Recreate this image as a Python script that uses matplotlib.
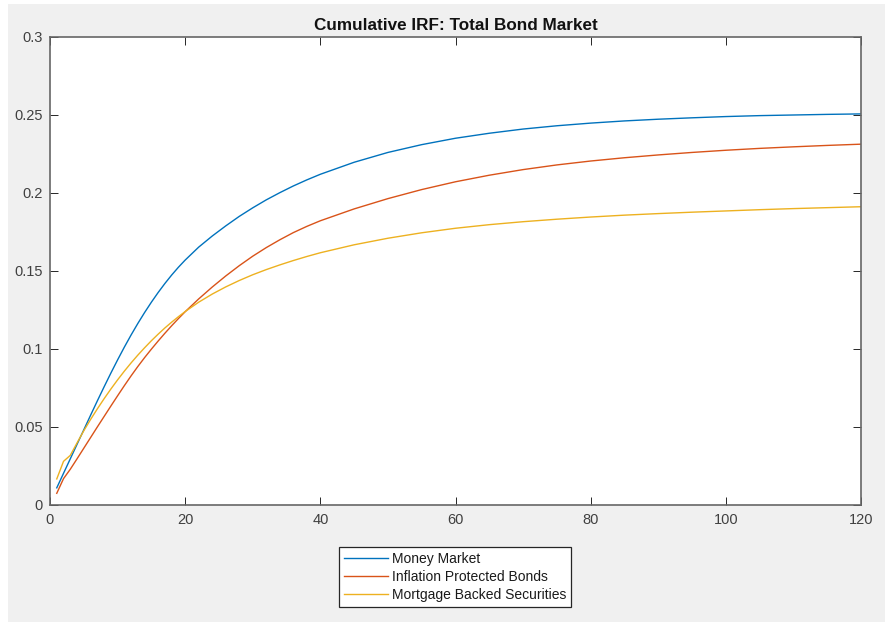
import matplotlib
matplotlib.use("Agg")
import matplotlib.pyplot as plt
from matplotlib.patches import Rectangle

plt.rcParams['font.family'] = ['Liberation Sans', 'DejaVu Sans']

# Horizon (periods) shared by all three responses
horizon = [1, 2, 3, 4, 5, 6, 7, 8, 9, 10, 11, 12, 13, 14, 15, 16, 17, 18, 19, 20,
           22, 24, 26, 28, 30, 32, 34, 36, 38, 40,
           45, 50, 55, 60, 65, 70, 75, 80, 85, 90, 95, 100, 105, 110, 115, 120]

money_market = [0.0110, 0.0203, 0.0296, 0.0389, 0.0482, 0.0575, 0.0667, 0.0757, 0.0845, 0.0930,
                0.1012, 0.1090, 0.1164, 0.1234, 0.1300, 0.1362, 0.1420, 0.1474, 0.1524, 0.1570,
                0.1653, 0.1724, 0.1789, 0.1850, 0.1905, 0.1956, 0.2002, 0.2045, 0.2084, 0.2120,
                0.2197, 0.2260, 0.2310, 0.2351, 0.2383, 0.2410, 0.2431, 0.2448, 0.2462, 0.2473,
                0.2482, 0.2490, 0.2496, 0.2500, 0.2504, 0.2507]

inflation_protected = [0.0075, 0.0169, 0.0229, 0.0296, 0.0364, 0.0432, 0.0500, 0.0567, 0.0634, 0.0700,
                       0.0765, 0.0828, 0.0888, 0.0945, 0.0999, 0.1051, 0.1101, 0.1149, 0.1195, 0.1239,
                       0.1321, 0.1397, 0.1468, 0.1534, 0.1595, 0.1650, 0.1700, 0.1746, 0.1786, 0.1822,
                       0.1898, 0.1964, 0.2022, 0.2072, 0.2114, 0.2150, 0.2180, 0.2205, 0.2226, 0.2244,
                       0.2260, 0.2274, 0.2286, 0.2296, 0.2305, 0.2313]

mortgage_backed = [0.0167, 0.0280, 0.0318, 0.0398, 0.0476, 0.0548, 0.0616, 0.0681, 0.0743, 0.0802,
                   0.0858, 0.0911, 0.0961, 0.1008, 0.1053, 0.1095, 0.1135, 0.1172, 0.1207, 0.1240,
                   0.1300, 0.1352, 0.1398, 0.1439, 0.1476, 0.1509, 0.1539, 0.1567, 0.1593, 0.1617,
                   0.1668, 0.1710, 0.1745, 0.1774, 0.1797, 0.1816, 0.1832, 0.1846, 0.1858, 0.1868,
                   0.1877, 0.1885, 0.1893, 0.1900, 0.1906, 0.1912]

series_labels = ['Money Market', 'Inflation Protected Bonds', 'Mortgage Backed Securities']
series_colors = ['#0072BD', '#D95319', '#EDB120']

x_ticks = [0, 20, 40, 60, 80, 100, 120]
y_ticks = [0, 0.05, 0.1, 0.15, 0.2, 0.25, 0.3]
y_tick_labels = ['0', '0.05', '0.1', '0.15', '0.2', '0.25', '0.3']

W, H = 885, 622
fig = plt.figure(figsize=(W / 100, H / 100), dpi=100)
fig.patch.set_facecolor('white')
fig.patches.append(Rectangle((8 / W, 0), (W - 8) / W, (H - 4) / H,
                             transform=fig.transFigure, facecolor='#f0f0f0',
                             edgecolor='none', zorder=-10))

ax = fig.add_axes([50 / W, 1 - 505 / H, 811 / W, 468 / H])
ax.set_zorder(1)
ax.set_facecolor('white')

for values, label, color in zip([money_market, inflation_protected, mortgage_backed],
                                series_labels, series_colors):
    ax.plot(horizon, values, color=color, linewidth=1.0, label=label)

ax.set_xlim(0, 120)
ax.set_ylim(0, 0.3)
ax.set_xticks(x_ticks)
ax.set_yticks(y_ticks)
ax.set_yticklabels(y_tick_labels)

tick_color = '#262626'
label_color = '#404040'
for side in ['left', 'right', 'top', 'bottom']:
    ax.spines[side].set_color('#666666')
    ax.spines[side].set_linewidth(1.2)
ax.tick_params(direction='in', top=True, right=True, length=5.8, width=0.7,
               colors=tick_color, labelsize=10.5, labelcolor=label_color)
ax.tick_params(axis='y', pad=5)
ax.tick_params(axis='x', pad=6)

ax.set_title('Cumulative IRF: Total Bond Market', fontsize=12.3, fontweight='bold',
             color='#111111', pad=5)

leg = fig.legend(loc='upper center', bbox_to_anchor=(455 / W, 1 - 547 / H),
                 fontsize=10, frameon=True, fancybox=False, framealpha=1,
                 edgecolor='#262626', facecolor='white', handlelength=3.2,
                 handletextpad=0.25, labelspacing=0.3, borderpad=0.35,
                 borderaxespad=0)
leg.get_frame().set_linewidth(0.9)
leg.set_zorder(2)
for t in leg.get_texts():
    t.set_color('#1a1a1a')

fig.savefig('out.png', dpi=100, facecolor=fig.get_facecolor())
